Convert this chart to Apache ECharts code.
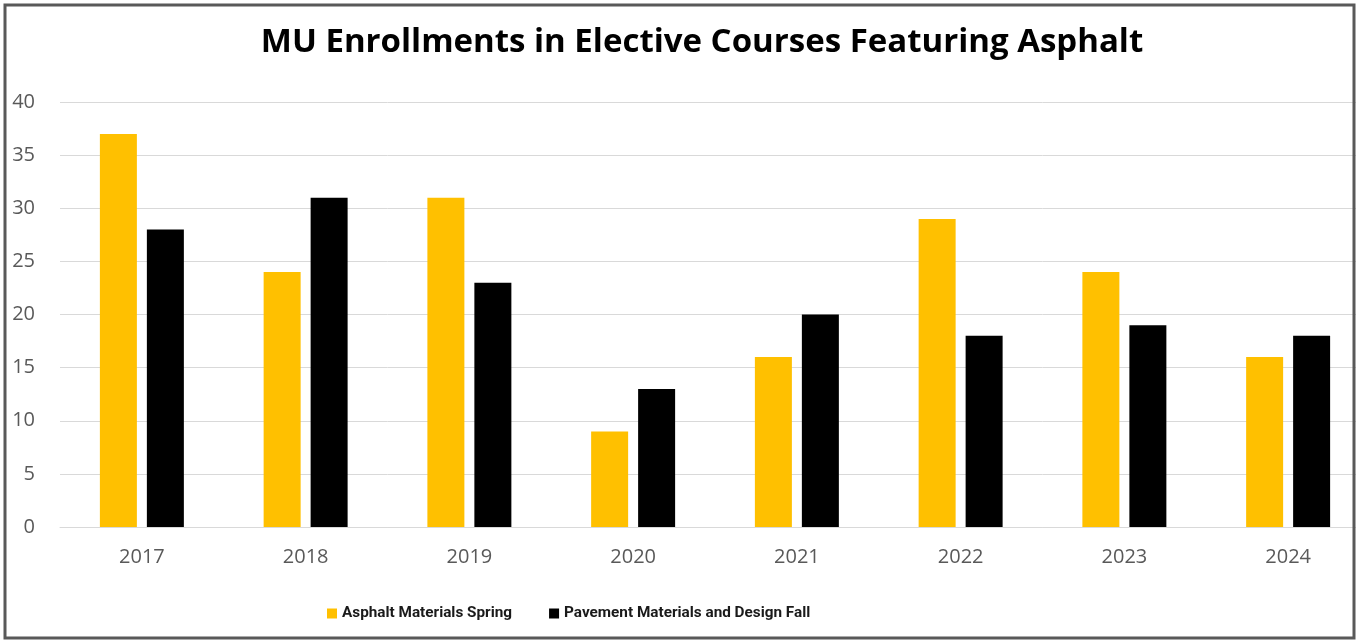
<!DOCTYPE html>
<html>
<head>
<meta charset="utf-8">
<script src="https://cdn.jsdelivr.net/npm/echarts@6/dist/echarts.min.js"></script>
<style>
html,body{margin:0;padding:0;background:#fff;overflow:hidden;}
#chart{width:1380px;height:641px;}
</style>
</head>
<body>
<div id="chart"></div>
<script>
const titleText = 'MU Enrollments in Elective Courses Featuring Asphalt';
const categories = ['2017','2018','2019','2020','2021','2022','2023','2024'];
const springName = 'Asphalt Materials Spring';
const fallName = 'Pavement Materials and Design Fall';
const springValues = [37, 24, 31, 9, 16, 29, 24, 16];
const fallValues = [28, 31, 23, 13, 20, 18, 19, 18];
const yTicks = {min: 0, max: 40, interval: 5};

const chart = echarts.init(document.getElementById('chart'));
chart.setOption({
  animation: false,
  backgroundColor: '#ffffff',
  title: {
    text: titleText,
    left: 697, textAlign: 'center',
    top: 21,
    textStyle: {fontFamily: 'Open Sans', fontWeight: 'bold', fontSize: 33, color: '#000'}
  },
  legend: {
    bottom: 15,
    left: 322,
    itemWidth: 10,
    itemHeight: 10,
    itemGap: 37,
    icon: 'rect',
    textStyle: {fontFamily: 'Roboto', fontWeight: 'bold', fontSize: 15.3, color: '#1a1a1a'},
    data: [springName, fallName]
  },
  grid: {left: 60, width: 1310, top: 102, bottom: 114, containLabel: false},
  xAxis: {
    type: 'category',
    data: categories,
    axisLine: {show: true, lineStyle: {color: '#d9d9d9', width: 1}},
    axisTick: {show: false},
    axisLabel: {fontFamily: 'Open Sans', fontSize: 20, color: '#595959', margin: 20}
  },
  yAxis: {
    type: 'value',
    min: yTicks.min, max: yTicks.max, interval: yTicks.interval,
    axisLine: {show: false},
    axisTick: {show: false},
    splitLine: {lineStyle: {color: '#d9d9d9', width: 1}},
    axisLabel: {fontFamily: 'Open Sans', fontSize: 20, color: '#595959', margin: 25}
  },
  series: [
    {name: springName, type: 'bar', data: springValues, barWidth: 37, barGap: '27%', itemStyle: {color: '#FFC000'}},
    {name: fallName, type: 'bar', data: fallValues, barWidth: 37, barGap: '27%', itemStyle: {color: '#000000'}}
  ],
  graphic: [
    {type: 'rect', silent: true, z: 100, shape: {x: 5, y: 5, width: 1349, height: 633},
     style: {fill: 'none', stroke: '#595959', lineWidth: 3}},
    {type: 'rect', silent: true, z: 99, shape: {x: 1356, y: 0, width: 30, height: 641},
     style: {fill: '#ffffff'}}
  ]
});
</script>
</body>
</html>
